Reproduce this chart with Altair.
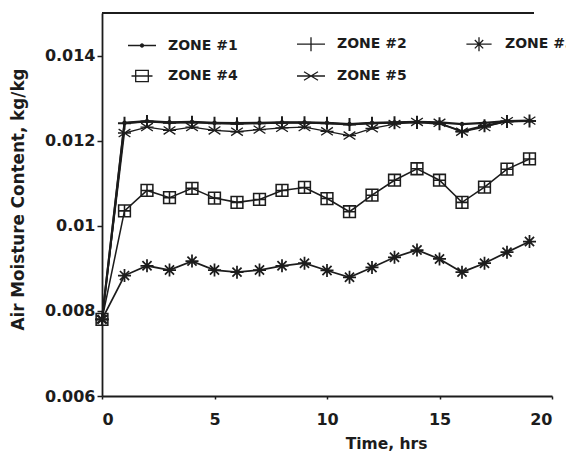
import altair as alt
import pandas as pd

TIME = list(range(20))
ZONES = ["ZONE #1", "ZONE #2", "ZONE #3", "ZONE #4", "ZONE #5"]

ZONE1 = [0.0078, 0.01242, 0.01246, 0.01243, 0.01244, 0.01242, 0.01241, 0.01242, 0.01243, 0.01243,
         0.01242, 0.01239, 0.01242, 0.01243, 0.01244, 0.01243, 0.01239, 0.01242, 0.01246, 0.01247]
ZONE2 = [0.0078, 0.01241, 0.01245, 0.01242, 0.01243, 0.01241, 0.01240, 0.01241, 0.01242, 0.01242,
         0.01241, 0.01238, 0.01241, 0.01242, 0.01243, 0.01240, 0.01222, 0.01235, 0.01245, 0.01246]
ZONE3 = [0.0078, 0.00883, 0.00906, 0.00896, 0.00917, 0.00896, 0.00891, 0.00896, 0.00906, 0.00912,
         0.00895, 0.00879, 0.00902, 0.00926, 0.00943, 0.00922, 0.00891, 0.00912, 0.00938, 0.00963]
ZONE4 = [0.0078, 0.01035, 0.01083, 0.01066, 0.01088, 0.01065, 0.01055, 0.01062, 0.01083, 0.01090,
         0.01064, 0.01033, 0.01072, 0.01107, 0.01134, 0.01107, 0.01055, 0.01091, 0.01133, 0.01157]
ZONE5 = [0.0078, 0.01218, 0.01232, 0.01224, 0.01232, 0.01224, 0.01221, 0.01226, 0.01230, 0.01232,
         0.01222, 0.01212, 0.01229, 0.01239, 0.01244, 0.01242, 0.01221, 0.01232, 0.01246, 0.01247]

X_TICKS = [0, 5, 10, 15, 20]
Y_TICKS = [0.006, 0.008, 0.010, 0.012, 0.014]
X_DOMAIN = [0, 20]
Y_DOMAIN = [0.006, 0.015]
TOP_FRAME_Y = 0.015
TOP_FRAME_X = [0, 19.2]

rows = []
for z, vals in zip(ZONES, [ZONE1, ZONE2, ZONE3, ZONE4, ZONE5]):
    for t, v in zip(TIME, vals):
        rows.append({"time": t, "moisture": v, "zone": z})
df = pd.DataFrame(rows)

DOT = "M-0.18,0a0.18,0.18 0 1,0 0.36,0a0.18,0.18 0 1,0 -0.36,0"
MARKERS = [
    DOT,
    "M-1,0L1,0M0,-1L0,1",
    "M-1,0L1,0M0,-1L0,1M-0.7,-0.7L0.7,0.7M-0.7,0.7L0.7,-0.7",
    "M-0.9,-0.9L0.9,-0.9L0.9,0.9L-0.9,0.9ZM-0.9,0L0.9,0M0,-0.9L0,0.9",
    "M-1,0L1,0M-0.9,-0.6L0.9,0.6M-0.9,0.6L0.9,-0.6",
]
LEGEND_MARKERS = [
    "M-2,0L2,0M-0.22,0a0.22,0.22 0 1,0 0.44,0a0.22,0.22 0 1,0 -0.44,0"
    "M-0.1,0a0.1,0.1 0 1,0 0.2,0a0.1,0.1 0 1,0 -0.2,0",
    "M-2,0L2,0M0,-1L0,1",
    "M-1.8,0L1.8,0M0,-1L0,1M-0.6,-0.6L0.6,0.6M-0.6,0.6L0.6,-0.6",
    "M-1.5,0L-0.9,0M0.9,0L1.5,0M-0.9,-0.8L0.9,-0.8L0.9,0.8L-0.9,0.8ZM-0.9,0L0.9,0",
    "M-2,0L2,0M-1,-0.6L1,0.6M-1,0.6L1,-0.6",
]
WIDTHS = [2.2, 1.3, 1.3, 1.3, 1.3]

FONT = "DejaVu Sans"
INK = "#1c1c1c"

x = alt.X("time:Q", scale=alt.Scale(domain=X_DOMAIN, nice=False),
          axis=alt.Axis(values=X_TICKS, title="Time, hrs", grid=False,
                        titleX=284, titleY=47, titleAlign="center", titleBaseline="middle",
                        titleFontSize=15.5, tickSize=3, labelPadding=12))
y = alt.Y("moisture:Q", scale=alt.Scale(domain=Y_DOMAIN, nice=False, zero=False),
          axis=alt.Axis(values=Y_TICKS, format=".3~f", title="Air Moisture Content, kg/kg",
                        grid=False, titleX=-84, titleY=186, titleAlign="center",
                        titleBaseline="middle", titleFontSize=16.8, tickSize=5, labelPadding=2))

sw = alt.StrokeWidth("zone:N", scale=alt.Scale(domain=ZONES, range=WIDTHS), legend=None)

lines = alt.Chart(df).mark_line(color=INK).encode(
    x=x, y=y, detail="zone:N", strokeWidth=sw)

points = alt.Chart(df).mark_point(filled=False, color=INK, size=170, opacity=1).encode(
    x=x, y=y, strokeWidth=sw,
    shape=alt.Shape("zone:N", scale=alt.Scale(domain=ZONES, range=MARKERS), legend=None))

legend_layer = alt.Chart(df).transform_filter("false").mark_point(
    filled=False, color=INK, size=196, opacity=1).encode(
    x=x, y=y,
    shape=alt.Shape("zone:N", scale=alt.Scale(domain=ZONES, range=LEGEND_MARKERS),
                    legend=alt.Legend(title=None, orient="none", legendX=32, legendY=23,
                                      columns=3, direction="horizontal",
                                      labelFont=FONT, labelFontSize=14, labelFontWeight="bold",
                                      labelColor=INK, symbolSize=196, symbolStrokeWidth=1.3,
                                      symbolStrokeColor=INK, symbolFillColor="transparent",
                                      symbolOpacity=1,
                                      labelOffset=18, columnPadding=56, rowPadding=13,
                                      padding=0)))

top = alt.Chart(df).mark_rule(color=INK, strokeWidth=1.8).encode(
    y=alt.datum(TOP_FRAME_Y), x=alt.datum(TOP_FRAME_X[0]), x2=alt.datum(TOP_FRAME_X[1]))

chart = alt.layer(lines, points, legend_layer, top).resolve_scale(
    shape="independent").resolve_legend(shape="independent").properties(
    width=450, height=383,
    padding={"left": 102, "top": 13, "right": 14, "bottom": 58},
    autosize=alt.AutoSizeParams(type="none"),
).configure_view(stroke=None).configure_axis(
    domainColor=INK, domainWidth=1.8, tickColor=INK, tickWidth=1.5,
    labelFont=FONT, labelFontSize=16, labelFontWeight="bold", labelColor=INK,
    titleFont=FONT, titleFontWeight="bold", titleColor=INK,
)

chart.save("out.html", embed_options={"renderer": "svg", "actions": False})
